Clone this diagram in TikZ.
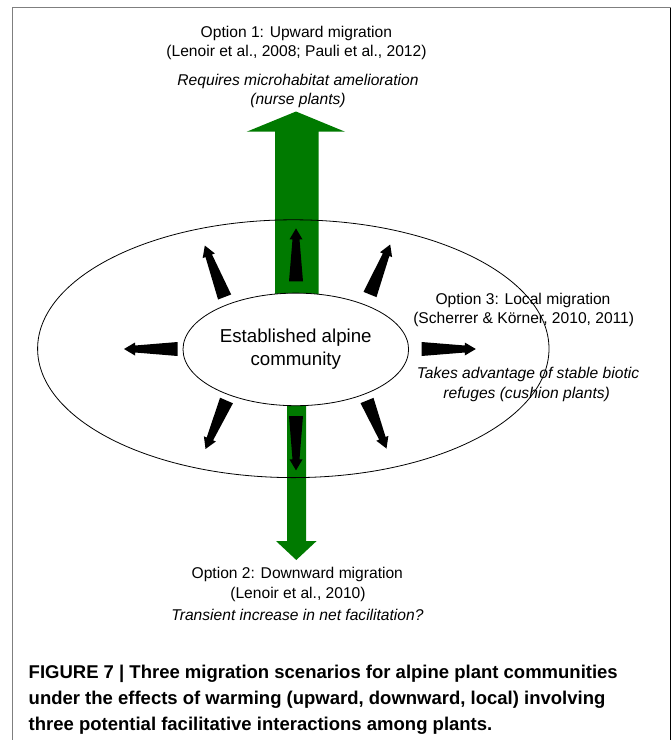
\documentclass[tikz,border=0pt]{standalone}
\usepackage{fontspec}
\setmainfont{Liberation Sans}
\usetikzlibrary{calc,shapes.geometric}

% tapered black arrow from a base coordinate to a tip coordinate
\newcommand{\wedgeArrow}[2]{%
  \fill let \p1 = ($(#2)-(#1)$), \n1 = {atan2(\y1,\x1)}, \n2 = {veclen(\x1,\y1)} in
    [shift={(#1)}, rotate=\n1]
    (0,7) -- (\n2-11,3.5) -- (\n2-11,6.5) -- (\n2,0) -- (\n2-11,-6.5) -- (\n2-11,-3.5) -- (0,-7) -- cycle;}

\tikzset{
  optionText/.style={anchor=base, inner sep=0pt, font=\fontsize{15.6}{19.3}\selectfont},
  noteText/.style={anchor=base, inner sep=0pt, font=\fontsize{15.6}{19.3}\selectfont\itshape},
  captionText/.style={anchor=base west, inner sep=0pt, font=\fontsize{18.5}{26}\selectfont\bfseries}
}

\begin{document}
\begin{tikzpicture}[x=1pt, y=-1pt]
    \definecolor{frameGrey}{HTML}{7F7F7F}
    \definecolor{migrationGreen}{HTML}{007A00}

    \useasboundingbox (0,0) rectangle (671,740);

    % Draw frame
    \draw[frameGrey, line width=1.3pt] (12.5,740) -- (12.5,7.5) -- (671,7.5);
    \draw[black, line width=1.4pt] (670.2,8) -- (670.2,740);

    % Green arrows: upward and downward migration
    \coordinate (upTip) at (296,111.5);
    \coordinate (downTip) at (296.3,560);
    \fill[migrationGreen] (275,349) -- (275,131.7) -- (246.7,131.7) -- (upTip)
        -- (345,131.7) -- (318.5,131.7) -- (318.5,349) -- cycle;
    \fill[migrationGreen] (287,349) -- (287,541) -- (276,541) -- (downTip)
        -- (316.6,541) -- (306,541) -- (306,349) -- cycle;

    % Outer ellipse and the community
    \draw[line width=0.8pt] (293.3,348.7) ellipse [x radius=255.7, y radius=128.9];
    \node[draw, ellipse, fill=white, line width=0.8pt, minimum width=225.6pt, minimum height=112.6pt,
          align=center, font=\fontsize{18.7}{23.2}\selectfont] (community) at (295.8,349.4)
          {Established alpine\\community};

    % Black arrows out of the community
    \foreach \bx/\by/\tx/\ty [count=\i] in {296/281.3/296/228.4, 296/416/296/470.4,
        177.6/349/124/349, 421.5/349/475.8/349, 224.6/297/204.8/245.5,
        370/294.5/390.2/244.5, 226.5/400.5/205.5/449, 367/400.5/386.5/448.5} {
        \coordinate (base\i) at (\bx,\by);
        \coordinate (tip\i) at (\tx,\ty);
        \wedgeArrow{base\i}{tip\i}
    }

    % Option 1
    \node[optionText] (opt1) at (296.4,37.3) {Option 1: Upward migration};
    \node[optionText] (ref1) at (296.5,56.3) {(Lenoir et al., 2008; Pauli et al., 2012)};
    \node[noteText] (note1a) at (298,85.5) {Requires microhabitat amelioration};
    \node[noteText] (note1b) at (298,104.5) {(nurse plants)};

    % Option 3
    \node[optionText] (opt3) at (523,304) {Option 3: Local migration};
    \node[optionText] (ref3) at (523.7,323.5) {(Scherrer \& Körner, 2010, 2011)};
    \node[noteText] (note3a) at (528,378.5) {Takes advantage of stable biotic};
    \node[noteText] (note3b) at (526.7,398) {refuges (cushion plants)};

    % Option 2
    \node[optionText] (opt2) at (297.3,578.8) {Option 2: Downward migration};
    \node[optionText] (ref2) at (298,598.7) {(Lenoir et al., 2010)};
    \node[noteText] (note2) at (297.5,620) {Transient increase in net facilitation?};

    % Caption
    \node[captionText] (cap1) at (28.5,678) {FIGURE 7 | Three migration scenarios for alpine plant communities};
    \node[captionText] (cap2) at (28.5,704) {under the effects of warming (upward, downward, local) involving};
    \node[captionText] (cap3) at (28.5,730) {three potential facilitative interactions among plants.};

\end{tikzpicture}
\end{document}
